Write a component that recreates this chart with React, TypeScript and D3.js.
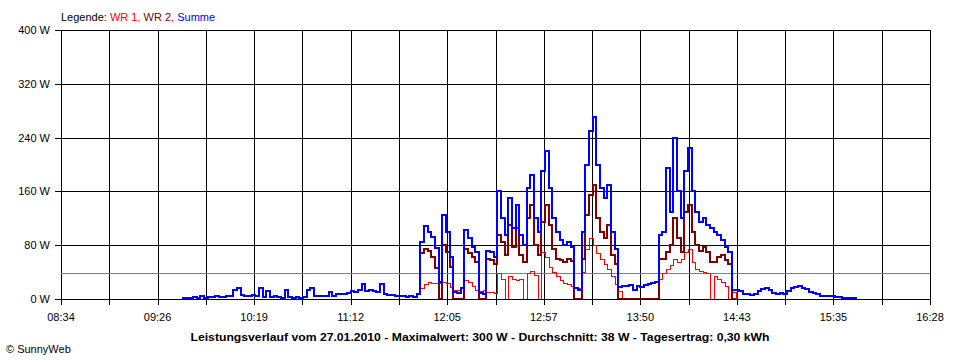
import React from "react";
import * as d3 from "d3";

// ---- data ----
const xTickLabels = ["08:34", "09:26", "10:19", "11:12", "12:05", "12:57", "13:50", "14:43", "15:35", "16:28"];
const xStart = "08:34";
const xEnd = "16:28";
const yTicks = [0, 80, 160, 240, 320, 400];
const yTickLabels = ["0 W", "80 W", "160 W", "240 W", "320 W", "400 W"];
const average = 38;

const summeStart = "09:40";
const wrStart = "11:50";
const stepMinutes = 2;

const summe = [
  1, 2, 1, 3, 2, 4, 2, 3, 3, 4,
  3, 3, 4, 5, 13, 16, 6, 5, 4, 6,
  4, 16, 3, 12, 3, 4, 3, 2, 13, 3,
  2, 3, 2, 3, 13, 16, 4, 5, 4, 4,
  10, 5, 7, 7, 8, 9, 12, 11, 13, 22,
  12, 13, 12, 11, 22, 7, 6, 6, 5, 4,
  4, 3, 5, 3, 8,
  85, 108, 100, 92, 76, 25, 125, 100, 62, 10,
  9, 16, 103, 90, 78, 70, 9, 8, 72, 70,
  62, 160, 120, 95, 150, 105, 140, 95, 80, 165,
  185, 120, 100, 190, 220, 165, 120, 100, 88, 80,
  85, 78, 16, 14, 100, 200, 250, 270, 200, 165,
  150, 170, 100, 75, 18, 20, 19, 21, 14, 20,
  18, 21, 22, 24, 25, 95, 100, 195, 130, 240,
  160, 120, 190, 225, 160, 130, 115, 120, 110, 105,
  100, 95, 88, 78, 70, 14,
  13, 12, 8, 7, 6, 8, 12, 15, 17, 14,
  9, 8, 9, 8, 12, 16, 18, 19, 16, 15,
  10, 9, 8, 5, 5, 4, 4, 3, 3, 2,
  2, 2, 1, 1,
];

const wr1 = [
  16, 22, 26, 24, 24, 24, 26, 24, 18, 14,
  14, 16, 28, 26, 20, 14, 12, 14, 10, 10,
  9, 38, 30, 0, 34, 30, 28, 30, 0, 38,
  42, 36, 0, 70, 62, 48, 40, 34, 28, 24,
  22, 20, 18, 16, 40, 75, 90, 80, 68, 60,
  52, 45, 34, 22, 12, 0, 0, 0, 0, 0,
  0, 0, 0, 0, 0, 30, 38, 45, 50, 60,
  55, 60, 70, 75, 55, 45, 42, 40, 38, 0,
  34, 30, 26, 20, 0, 10, 0,
];

const wr2 = [
  68, 74, 72, 62, 46, 0, 80, 70, 48, 0,
  0, 0, 75, 68, 62, 55, 0, 0, 60, 58,
  52, 95, 85, 65, 110, 78, 105, 65, 55, 120,
  140, 80, 65, 115, 140, 110, 75, 60, 58, 55,
  60, 56, 0, 0, 60, 125, 155, 170, 120, 100,
  90, 110, 65, 52, 0, 0, 0, 0, 0, 0,
  0, 0, 0, 0, 0, 60, 60, 70, 80, 120,
  90, 70, 130, 140, 100, 80, 72, 78, 70, 55,
  55, 62, 65, 58, 52, 0, 0,
];

const legendItems = [
  { label: "WR 1", color: "#ff0000" },
  { label: "WR 2", color: "#800000" },
  { label: "Summe", color: "#0000ff" },
];
const title = "Leistungsverlauf vom 27.01.2010 - Maximalwert: 300 W - Durchschnitt: 38 W - Tagesertrag: 0,30 kWh";
const copyright = "© SunnyWeb";

// ---- helpers ----
const toMin = (s: string) => {
  const [h, m] = s.split(":").map(Number);
  return h * 60 + m;
};

const FONT = "'Liberation Sans', Arial, sans-serif";

export default function App() {
  const W = 960;
  const H = 360;
  const left = 61;
  const right = 930;
  const top = 30;
  const bottom = 299;

  const t0 = toMin(xStart);
  const t1 = toMin(xEnd);
  const x = d3.scaleLinear().domain([t0, t1]).range([left, right]);
  const y = d3.scaleLinear().domain([0, 400]).range([bottom, top]);

  const gridCount = 18;
  const gridTimes = d3.range(gridCount + 1).map((i) => t0 + (i * (t1 - t0)) / gridCount);
  const labelTimes = xTickLabels.map((_, i) => t0 + (i * (t1 - t0)) / (xTickLabels.length - 1));

  const px = (v: number) => Math.round(v) + 0.5;

  const mkLine = (start: string, off: number) =>
    d3
      .line<number>()
      .x((_, i) => Math.round(x(toMin(start) + i * stepMinutes)) + off)
      .y((d) => Math.round(y(d)) + off)
      .curve(d3.curveStepAfter);

  const summePath = mkLine(summeStart, 0)(summe) || "";
  const wr1Path = mkLine(wrStart, 0.5)(wr1) || "";
  const wr2Path = mkLine(wrStart, 0)(wr2) || "";

  return (
    <svg
      width={W}
      height={H}
      style={{ position: "absolute", left: 0, top: 0, background: "#ffffff" }}
      fontFamily={FONT}
      fontSize={11}
    >
      <rect x={0} y={0} width={W} height={H} fill="#ffffff" />

      {/* legend */}
      <text x={61} y={21} fill="#000">
        Legende:{" "}
        {legendItems.map((it, i) => (
          <tspan key={it.label} fill={it.color}>
            {it.label}
            {i < legendItems.length - 1 ? ", " : ""}
          </tspan>
        ))}
      </text>

      {/* horizontal grid + left ticks */}
      {yTicks.map((v) => (
        <line
          key={"h" + v}
          x1={left - 6}
          x2={right}
          y1={px(y(v))}
          y2={px(y(v))}
          stroke="#000"
          strokeWidth={1}
          shapeRendering="crispEdges"
        />
      ))}
      {/* vertical grid + bottom ticks */}
      {gridTimes.map((t, i) => (
        <line
          key={"v" + i}
          x1={px(x(t))}
          x2={px(x(t))}
          y1={top}
          y2={bottom + 6}
          stroke="#000"
          strokeWidth={1}
          shapeRendering="crispEdges"
        />
      ))}

      {/* average line */}
      <line
        x1={left}
        x2={right}
        y1={px(y(average))}
        y2={px(y(average))}
        stroke="#808080"
        strokeWidth={1}
        shapeRendering="crispEdges"
      />

      {/* series */}
      <path d={wr1Path} fill="none" stroke="#ff0000" strokeWidth={1} shapeRendering="crispEdges" />
      <path d={wr2Path} fill="none" stroke="#800000" strokeWidth={2} shapeRendering="crispEdges" />
      <path d={summePath} fill="none" stroke="#0000ff" strokeWidth={2} shapeRendering="crispEdges" />

      {/* base axis on top */}
      <line
        x1={left - 6}
        x2={right}
        y1={px(y(0))}
        y2={px(y(0))}
        stroke="#000"
        strokeWidth={1}
        shapeRendering="crispEdges"
      />

      {/* y labels */}
      {yTicks.map((v, i) => (
        <text key={"yl" + v} x={50} y={y(v) + 4} textAnchor="end" fill="#000">
          {yTickLabels[i]}
        </text>
      ))}

      {/* x labels */}
      {labelTimes.map((t, i) => (
        <text key={"xl" + i} x={x(t)} y={321} textAnchor="middle" fill="#000">
          {xTickLabels[i]}
        </text>
      ))}

      {/* title */}
      <text
        x={480}
        y={341}
        textAnchor="middle"
        fontWeight="bold"
        fill="#000"
        textLength={579}
        lengthAdjust="spacingAndGlyphs"
      >
        {title}
      </text>

      {/* copyright */}
      <text x={6} y={353} fill="#000">
        {copyright}
      </text>
    </svg>
  );
}
